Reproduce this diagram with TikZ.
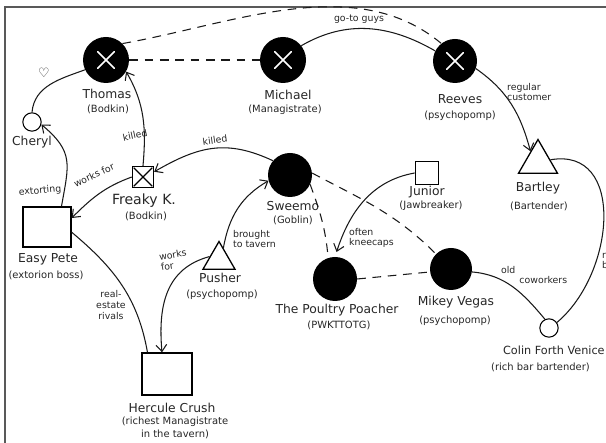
\documentclass[tikz,border=0pt]{standalone}
\usepackage{fontspec}
\setmainfont{DejaVu Sans}
\usetikzlibrary{shapes.geometric,arrows.meta,positioning}
\tikzset{
    link/.style={draw=black!90, line width=0.9pt},
    arrowlink/.style={link, -{Straight Barb[length=2mm,width=3.2mm]}},
    dashlink/.style={link, dash pattern=on 2.6mm off 2mm},
    % dead characters: black disc with a white cross
    deadnode/.style={
        circle, fill=black, inner sep=0pt, minimum size=1.38cm,
        path picture={
            \draw[white, line width=1.4pt, line cap=round]
              ([shift={(-7pt,-7pt)}]path picture bounding box.center) --
              ([shift={(7pt,7pt)}]path picture bounding box.center);
            \draw[white, line width=1.4pt, line cap=round]
              ([shift={(-7pt,7pt)}]path picture bounding box.center) --
              ([shift={(7pt,-7pt)}]path picture bounding box.center);
        }
    },
    blob/.style={circle, fill=black, inner sep=0pt, minimum size=1.32cm},
    ring/.style={circle, draw, line width=0.9pt, inner sep=0pt, minimum size=0.55cm},
    boxnode/.style={draw, line width=1.2pt, inner sep=0pt},
    boxcross/.style={
        boxnode, minimum size=0.63cm,
        path picture={
            \draw[line width=1pt, shorten >=1.5pt, shorten <=1.5pt]
              (path picture bounding box.north west) -- (path picture bounding box.south east);
            \draw[line width=1pt, shorten >=1.5pt, shorten <=1.5pt]
              (path picture bounding box.north east) -- (path picture bounding box.south west);
        }
    },
    tri/.style={regular polygon, regular polygon sides=3, draw, line width=1.1pt, inner sep=0pt},
    who/.style={font=\fontsize{10.5}{12}\selectfont, text=black!85},
    role/.style={font=\fontsize{8.5}{11}\selectfont, text=black!85},
    says/.style={font=\fontsize{8}{9}\selectfont, text=black!85, align=left},
}
\begin{document}
\begin{tikzpicture}[x=0.03cm, y=0.03cm]
    \useasboundingbox (0,0) rectangle (606,443);
    % frame, top and left edge only
    \draw[black!65, line width=1.6pt] (606,436) -- (5,436) -- (5,0);

    % characters
    \node[deadnode] (thomas) at (106,383) {};
    \node[deadnode] (michael) at (283,383) {};
    \node[deadnode, minimum size=1.32cm] (reeves) at (455,382) {};
    \node[ring] (cheryl) at (32,321) {};
    \node[boxcross] (freaky) at (143,266) {};
    \node[boxnode, minimum width=1.44cm, minimum height=1.2cm] (easypete) at (47,216) {};
    \node[blob] (sweemo) at (290,268) {};
    \node[boxnode, minimum size=0.7cm] (junior) at (427,270) {};
    \node[tri, minimum size=1.35cm] (bartley) at (538,281) {};
    \node[tri, minimum size=1.11cm] (pusher) at (219,183) {};
    \node[boxnode, minimum width=1.5cm, minimum height=1.26cm] (hercule) at (167,69) {};
    \node[blob] (poacher) at (335,164) {};
    \node[blob, minimum size=1.26cm] (mikey) at (451,174) {};
    \node[ring] (colin) at (549,115) {};

    % names and roles
    \node[who] (thomasname) at (107,349) {Thomas};
    \node[role] (thomasrole) at (108,334) {(Bodkin)};
    \node[who] (michaelname) at (288,348) {Michael};
    \node[role] (michaelrole) at (285,333) {(Managistrate)};
    \node[who] (reevesname) at (460,344) {Reeves};
    \node[role] (reevesrole) at (460,327) {(psychopomp)};
    \node[who] (cherylname) at (32,301) {Cheryl};
    \node[who, font=\fontsize{12}{14}\selectfont] (freakyname) at (144,242) {Freaky K.};
    \node[role] (freakyrole) at (146,227) {(Bodkin)};
    \node[who] (easypetename) at (48,184) {Easy Pete};
    \node[role] (easypeterole) at (46,168) {(extorion boss)};
    \node[who] (sweemoname) at (293,237) {Sweemo};
    \node[role] (sweemorole) at (293,223) {(Goblin)};
    \node[who] (juniorname) at (427,251) {Junior};
    \node[role] (juniorrole) at (431,237) {(Jawbreaker)};
    \node[who] (bartleyname) at (538,255) {Bartley};
    \node[role] (bartleyrole) at (539,237) {(Bartender)};
    \node[who] (pushername) at (220,165) {Pusher};
    \node[role] (pusherrole) at (222,148) {(psychopomp)};
    \node[who] (herculename) at (172,35) {Hercule Crush};
    \node[role, align=center] (herculerole) at (175,15) {(richest Managistrate\\in the tavern)};
    \node[who] (poachername) at (337,133) {The Poultry Poacher};
    \node[role] (poacherrole) at (339,118) {(PWKTTOTG)};
    \node[who] (mikeyname) at (456,141) {Mikey Vegas};
    \node[role] (mikeyrole) at (455,122) {(psychopomp)};
    \node[who, font=\fontsize{9.6}{11}\selectfont, anchor=west] (colinname) at (499,93) {Colin Forth Venice};
    \node[role, anchor=west] (colinrole) at (487,76) {(rich bar bartender)};

    % relations
    \draw[link] (thomas.205) to[out=200,in=85] (cheryl.north);
    \node[says, font=\fontsize{11}{12}\selectfont] (heart) at (44,370) {♡};
    \draw[arrowlink] (freaky.north) to[out=85,in=-60] (thomas.-30);
    \node[says, rotate=12] (killedthomas) at (135,308) {killed};
    \draw[arrowlink] (sweemo.140) to[out=155,in=30,looseness=1.1] (freaky.25);
    \node[says, rotate=8] (killedfreaky) at (215,303) {killed};
    \draw[arrowlink] (freaky.west) to[out=200,in=45] (easypete.20);
    \node[says, rotate=25] (worksfor) at (94,268) {works for};
    \draw[arrowlink] (easypete.55) to[out=80,in=-40,looseness=1.3] (cheryl.-15);
    \node[says, rotate=5] (extorting) at (40,252) {extorting};
    \draw[link] (easypete.-12) to[out=-40,in=100] (hercule.132);
    \node[says, align=center] (rivals) at (111,138) {real-\\estate\\rivals};
    \draw[arrowlink] (pusher.160) to[out=195,in=95,looseness=1.1] (hercule.103);
    \node[says, anchor=west, rotate=10] (worksforpusher) at (156,180) {works\\for};
    \draw[arrowlink] (pusher.70) to[out=80,in=-150] (sweemo.195);
    \node[says, anchor=west] (brought) at (229,204) {brought\\to tavern};
    \draw[arrowlink, shorten >=1.5mm] (junior.west) to[out=190,in=72] (poacher.north);
    \node[says, anchor=west] (kneecaps) at (345,205) {often\\kneecaps};

    % dashed ties
    \draw[dashlink] (thomas.east) -- (michael.west);
    \draw[dashlink] (thomas.45) to[out=10,in=140,looseness=0.9] (reeves.128);
    \draw[dashlink] (sweemo.-25) to[out=-70,in=95] (poacher.108);
    \draw[dashlink] (sweemo.5) to[out=-28,in=135] (mikey.135);
    \draw[dashlink] (poacher.east) -- (mikey.188);

    % right side
    \draw[link] (michael.38) to[out=30,in=150] (reeves.153);
    \node[says] (gotoguys) at (359,424) {go-to guys};
    \draw[arrowlink] (reeves.-20) to[out=-35,in=105] (bartley.125);
    \node[says, anchor=west] (regular) at (503,351) {regular\\customer};
    \draw[link] (mikey.-8) to[out=-5,in=130] (colin.115);
    \node[says, anchor=west] (coworkers) at (497,168) {old\\\hspace{5.5mm}coworkers};
    \draw[link] (bartley.10) to[out=10,in=40,looseness=1.2] (colin.35);
    \node[says, anchor=west] (rightcut) at (598,183) {rival\\bartenders};
\end{tikzpicture}
\end{document}
